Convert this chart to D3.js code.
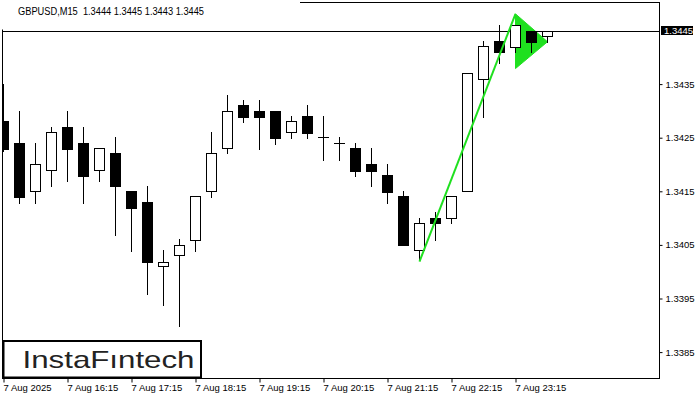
<!DOCTYPE html>
<html><head><meta charset="utf-8">
<script src="https://cdn.jsdelivr.net/npm/d3@7"></script>
<style>
html,body{margin:0;padding:0;background:#fff;}
svg{display:block;}
text{font-family:"Liberation Sans",Arial,sans-serif;}
</style></head>
<body>
<script>
// ---- data (GBPUSD M15, 7 Aug 2025, starting 15:15) ----
const opens  = [1.34281,1.34240,1.34150,1.34189,1.34270,1.34240,1.34189,1.34221,1.34151,1.34130,1.34010,1.34031,1.34060,1.34150,1.34230,1.34311,1.34300,1.34300,1.34260,1.34290,1.34251,1.34240,1.34231,1.34201,1.34180,1.34141,1.34040,1.34100,1.34100,1.34150,1.34359,1.34430,1.34420,1.34449,1.34440];
const highs  = [1.34350,1.34300,1.34240,1.34270,1.34300,1.34270,1.34230,1.34251,1.34151,1.34160,1.34040,1.34061,1.34141,1.34261,1.34330,1.34320,1.34320,1.34300,1.34290,1.34311,1.34290,1.34251,1.34240,1.34231,1.34201,1.34151,1.34100,1.34111,1.34141,1.34371,1.34430,1.34460,1.34460,1.34449,1.34450];
const lows   = [1.34225,1.34129,1.34129,1.34159,1.34170,1.34129,1.34170,1.34069,1.34039,1.33959,1.33938,1.33899,1.34039,1.34140,1.34221,1.34280,1.34229,1.34239,1.34250,1.34250,1.34209,1.34209,1.34179,1.34159,1.34129,1.34049,1.34023,1.34060,1.34090,1.34150,1.34289,1.34390,1.34409,1.34409,1.34429];
const closes = [1.34229,1.34140,1.34200,1.34261,1.34229,1.34179,1.34230,1.34159,1.34119,1.34019,1.34019,1.34049,1.34141,1.34221,1.34299,1.34289,1.34289,1.34250,1.34281,1.34259,1.34251,1.34240,1.34188,1.34188,1.34149,1.34049,1.34090,1.34090,1.34141,1.34371,1.34421,1.34409,1.34460,1.34429,1.34450];
const priceTicks = [1.3435,1.3425,1.3415,1.3405,1.3395,1.3385];
const timeTickIdx = [0,4,8,12,16,20,24,28,32];
const timeTickLabels = ["7 Aug 2025","7 Aug 16:15","7 Aug 17:15","7 Aug 18:15","7 Aug 19:15","7 Aug 20:15","7 Aug 21:15","7 Aug 22:15","7 Aug 23:15"];
const currentPrice = 1.3445;
const titleText = "GBPUSD,M15\u00a0\u00a01.3444 1.3445 1.3443 1.3445";
// pennant pattern: pole from bar 26 to bar 32, flag triangle
const poleIdx = [26,32];
const polePrice = [1.34019,1.34481];
const flagIdx = [32,32,34];
const flagPrice = [1.34481,1.34379,1.34429];

const W=700,H=400;
const L=2.5,R=659.5,T=2.5,B=378.5;
const svg=d3.select("body").append("svg").attr("width",W).attr("height",H);

const y=d3.scaleLinear().domain([1.3445,1.3385]).range([30.5,30.5+6*53.6]);
const x=d3.scaleLinear().domain([0,34]).range([3.5,3.5+16*34]);

const plot=svg.append("g");
svg.append("clipPath").attr("id","pc").append("rect").attr("x",L).attr("y",T).attr("width",R-L).attr("height",B-T);
const inner=plot.append("g").attr("clip-path","url(#pc)");

// current price line
inner.append("line").attr("x1",L).attr("x2",R).attr("y1",Math.round(y(currentPrice))+0.5).attr("y2",Math.round(y(currentPrice))+0.5).attr("stroke","#000").attr("stroke-width",1);

const green="#1fe01f";
// flag triangle (behind candles)
inner.append("path")
  .attr("d",d3.line()(flagIdx.map((d,i)=>[x(d),y(flagPrice[i])]))+"Z")
  .attr("fill",green).attr("stroke",green).attr("stroke-width",1);

const idx=d3.range(opens.length);
const snap=v=>Math.round(v);
const cg=inner.append("g");
idx.forEach(i=>{
  const cx=x(i);
  const up=closes[i]>=opens[i];
  cg.append("line").attr("x1",cx).attr("x2",cx)
    .attr("y1",snap(y(highs[i]))).attr("y2",snap(y(lows[i]))+1)
    .attr("stroke","#000").attr("stroke-width",1);
  const top=snap(y(Math.max(opens[i],closes[i])));
  const bot=snap(y(Math.min(opens[i],closes[i])));
  if(bot-top<1){
    cg.append("line").attr("x1",cx-5.5).attr("x2",cx+5.5).attr("y1",top+0.5).attr("y2",top+0.5)
      .attr("stroke","#000").attr("stroke-width",1);
  } else if(up){
    cg.append("rect").attr("x",cx-5).attr("y",top+0.5).attr("width",10).attr("height",bot-top)
      .attr("fill","#fff").attr("stroke","#000").attr("stroke-width",1);
  } else {
    cg.append("rect").attr("x",cx-5.5).attr("y",top).attr("width",11).attr("height",bot-top+1)
      .attr("fill","#000");
  }
});

// pole line (over candles)
inner.append("line")
  .attr("x1",x(poleIdx[0])).attr("y1",y(polePrice[0]))
  .attr("x2",x(poleIdx[1])).attr("y2",y(polePrice[1]))
  .attr("stroke",green).attr("stroke-width",2);

// frame
svg.append("rect").attr("x",L).attr("y",T).attr("width",R-L).attr("height",B-T)
  .attr("fill","none").attr("stroke","#000").attr("stroke-width",1);

// title box
svg.append("rect").attr("x",0).attr("y",0).attr("width",300).attr("height",29.5).attr("fill","#fff");
svg.append("text").attr("x",18).attr("y",14.5).attr("font-size",10).attr("fill","#000")
  .attr("textLength",186).attr("lengthAdjust","spacingAndGlyphs").text(titleText);

// right axis
const ya=d3.axisRight(y).tickValues(priceTicks).tickFormat(d3.format(".4f")).tickSize(3).tickPadding(3);
const gy=svg.append("g").attr("transform",`translate(${R},0)`).call(ya);
gy.select(".domain").remove();
gy.selectAll("line").attr("stroke","#000");
gy.selectAll("text").attr("font-size",9.5).attr("fill","#000").attr("font-family","Liberation Sans, Arial, sans-serif");

// current price label
const cy=y(currentPrice);
svg.append("rect").attr("x",661).attr("y",cy-4.5).attr("width",32).attr("height",9).attr("fill","#000");
svg.append("text").attr("x",664).attr("y",cy).attr("dy","0.35em").attr("font-size",9.5).attr("fill","#fff").text(d3.format(".4f")(currentPrice));

// bottom axis
const xa=d3.axisBottom(x).tickValues(timeTickIdx).tickFormat((d,i)=>timeTickLabels[i]).tickSize(4).tickPadding(2);
const gx=svg.append("g").attr("transform",`translate(0,${B})`).call(xa);
gx.select(".domain").remove();
gx.selectAll("line").attr("stroke","#000");
gx.selectAll("text").attr("text-anchor","start").attr("dx","-0.5").attr("font-size",9.5).attr("fill","#000").attr("font-family","Liberation Sans, Arial, sans-serif");

// logo
svg.append("rect").attr("x",3.5).attr("y",341).attr("width",197.5).attr("height",36.5).attr("fill","#fff").attr("stroke","#000").attr("stroke-width",2);
svg.append("text").attr("x",22.5).attr("y",368).attr("font-size",24).attr("font-weight",500)
  .attr("font-family","Inter, 'Open Sans', sans-serif").attr("fill","#222")
  .attr("textLength",172).attr("lengthAdjust","spacingAndGlyphs").text("InstaFıntech");
</script>
</body></html>
